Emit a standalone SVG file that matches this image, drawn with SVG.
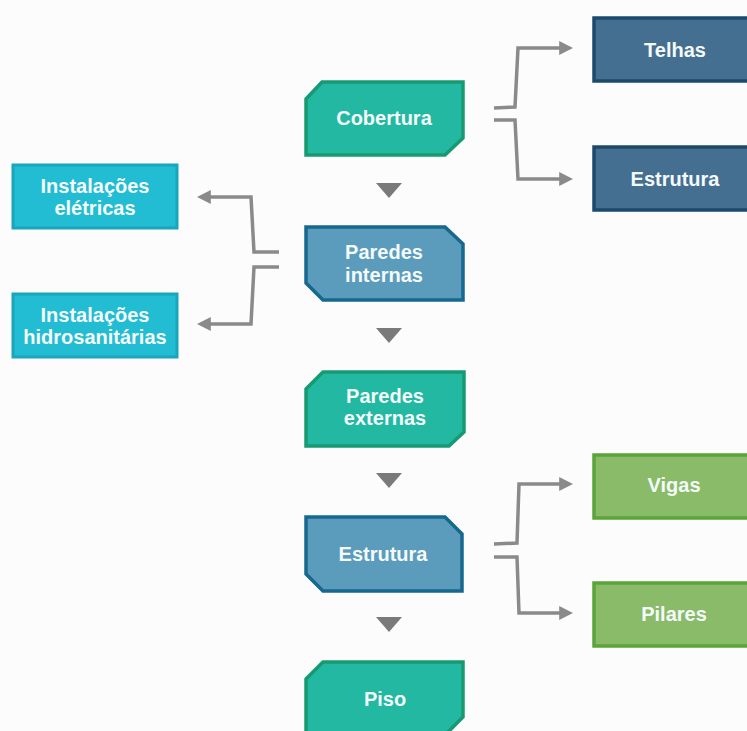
<svg xmlns="http://www.w3.org/2000/svg" width="747" height="731" viewBox="0 0 747 731">
<defs>
<style>
.t{font-family:"Liberation Sans",Arial,sans-serif;font-weight:bold;font-size:20px;fill:#f4fafa;text-anchor:middle}
.teal{fill:#22b8a2;stroke:#179a72;stroke-width:3.5}
.blue{fill:#5b9bbb;stroke:#16688e;stroke-width:3.5}
.navy{fill:#456f91;stroke:#1c4a6c;stroke-width:3.5}
.cyan{fill:#22bcd3;stroke:#18a6bd;stroke-width:3}
.green{fill:#89bb68;stroke:#5ba43a;stroke-width:3.5}
.ln{fill:none;stroke:#8a8a8a;stroke-width:3.5;stroke-linejoin:miter}
.tri{fill:#7a7a7a}
</style>
<marker id="ah" viewBox="0 0 10 10" refX="2" refY="5" markerWidth="4" markerHeight="4" orient="auto" markerUnits="strokeWidth">
<path d="M0,0 L10,5 L0,10 Z" fill="#8a8a8a"/>
</marker>
</defs>
<rect width="747" height="731" fill="#fcfcfc"/>

<g id="connectors">
<path class="ln" marker-end="url(#ah)" d="M494,108 L515,107 L518,48 L562,48"/>
<path class="ln" marker-end="url(#ah)" d="M494,120 L515,120 L518,179 L562,179"/>
<path class="ln" marker-end="url(#ah)" d="M279,252 L254,252 L251,197 L208,197"/>
<path class="ln" marker-end="url(#ah)" d="M279,267 L254,267 L251,324 L208,324"/>
<path class="ln" marker-end="url(#ah)" d="M494,544 L517,543 L519,484 L562,484"/>
<path class="ln" marker-end="url(#ah)" d="M494,557 L517,557 L519,613 L562,613"/>
<path class="tri" d="M376,183 L402,183 L389,198 Z"/>
<path class="tri" d="M376,328 L402,328 L389,343 Z"/>
<path class="tri" d="M376,473 L402,473 L389,488 Z"/>
<path class="tri" d="M376,617 L402,617 L389,632 Z"/>
</g>

<g id="cobertura">
<path class="teal" d="M322,82 L463,82 L463,138 L445,155 L306,155 L306,99 Z"/>
<text class="t" x="384" y="125">Cobertura</text>
</g>
<g id="paredes-internas">
<path class="blue" d="M306,227 L445,227 L463,244 L463,300 L323,300 L306,283 Z"/>
<text class="t" x="384" y="259">Paredes</text>
<text class="t" x="384" y="282">internas</text>
</g>
<g id="paredes-externas">
<path class="teal" d="M323,372 L464,372 L464,432 L449,446 L306,446 L306,389 Z"/>
<text class="t" x="385" y="403">Paredes</text>
<text class="t" x="385" y="425">externas</text>
</g>
<g id="estrutura">
<path class="blue" d="M306,517 L445,517 L462,534 L462,591 L323,591 L306,574 Z"/>
<text class="t" x="383" y="561">Estrutura</text>
</g>
<g id="piso">
<path class="teal" d="M323,662 L463,662 L463,717 L446,734 L306,734 L306,679 Z"/>
<text class="t" x="385" y="706">Piso</text>
</g>

<g id="telhas">
<rect class="navy" x="594" y="18" width="160" height="63"/>
<text class="t" x="675" y="57">Telhas</text>
</g>
<g id="estrutura-cobertura">
<rect class="navy" x="594" y="147" width="160" height="63"/>
<text class="t" x="675" y="186">Estrutura</text>
</g>
<g id="instalacoes-eletricas">
<rect class="cyan" x="13" y="165" width="164" height="63"/>
<text class="t" x="95" y="193">Instalações</text>
<text class="t" x="95" y="215">elétricas</text>
</g>
<g id="instalacoes-hidrosanitarias">
<rect class="cyan" x="13" y="294" width="164" height="63"/>
<text class="t" x="95" y="322">Instalações</text>
<text class="t" x="95" y="344">hidrosanitárias</text>
</g>
<g id="vigas">
<rect class="green" x="594" y="455" width="160" height="63"/>
<text class="t" x="674" y="492">Vigas</text>
</g>
<g id="pilares">
<rect class="green" x="594" y="583" width="160" height="63"/>
<text class="t" x="674" y="621">Pilares</text>
</g>
</svg>
